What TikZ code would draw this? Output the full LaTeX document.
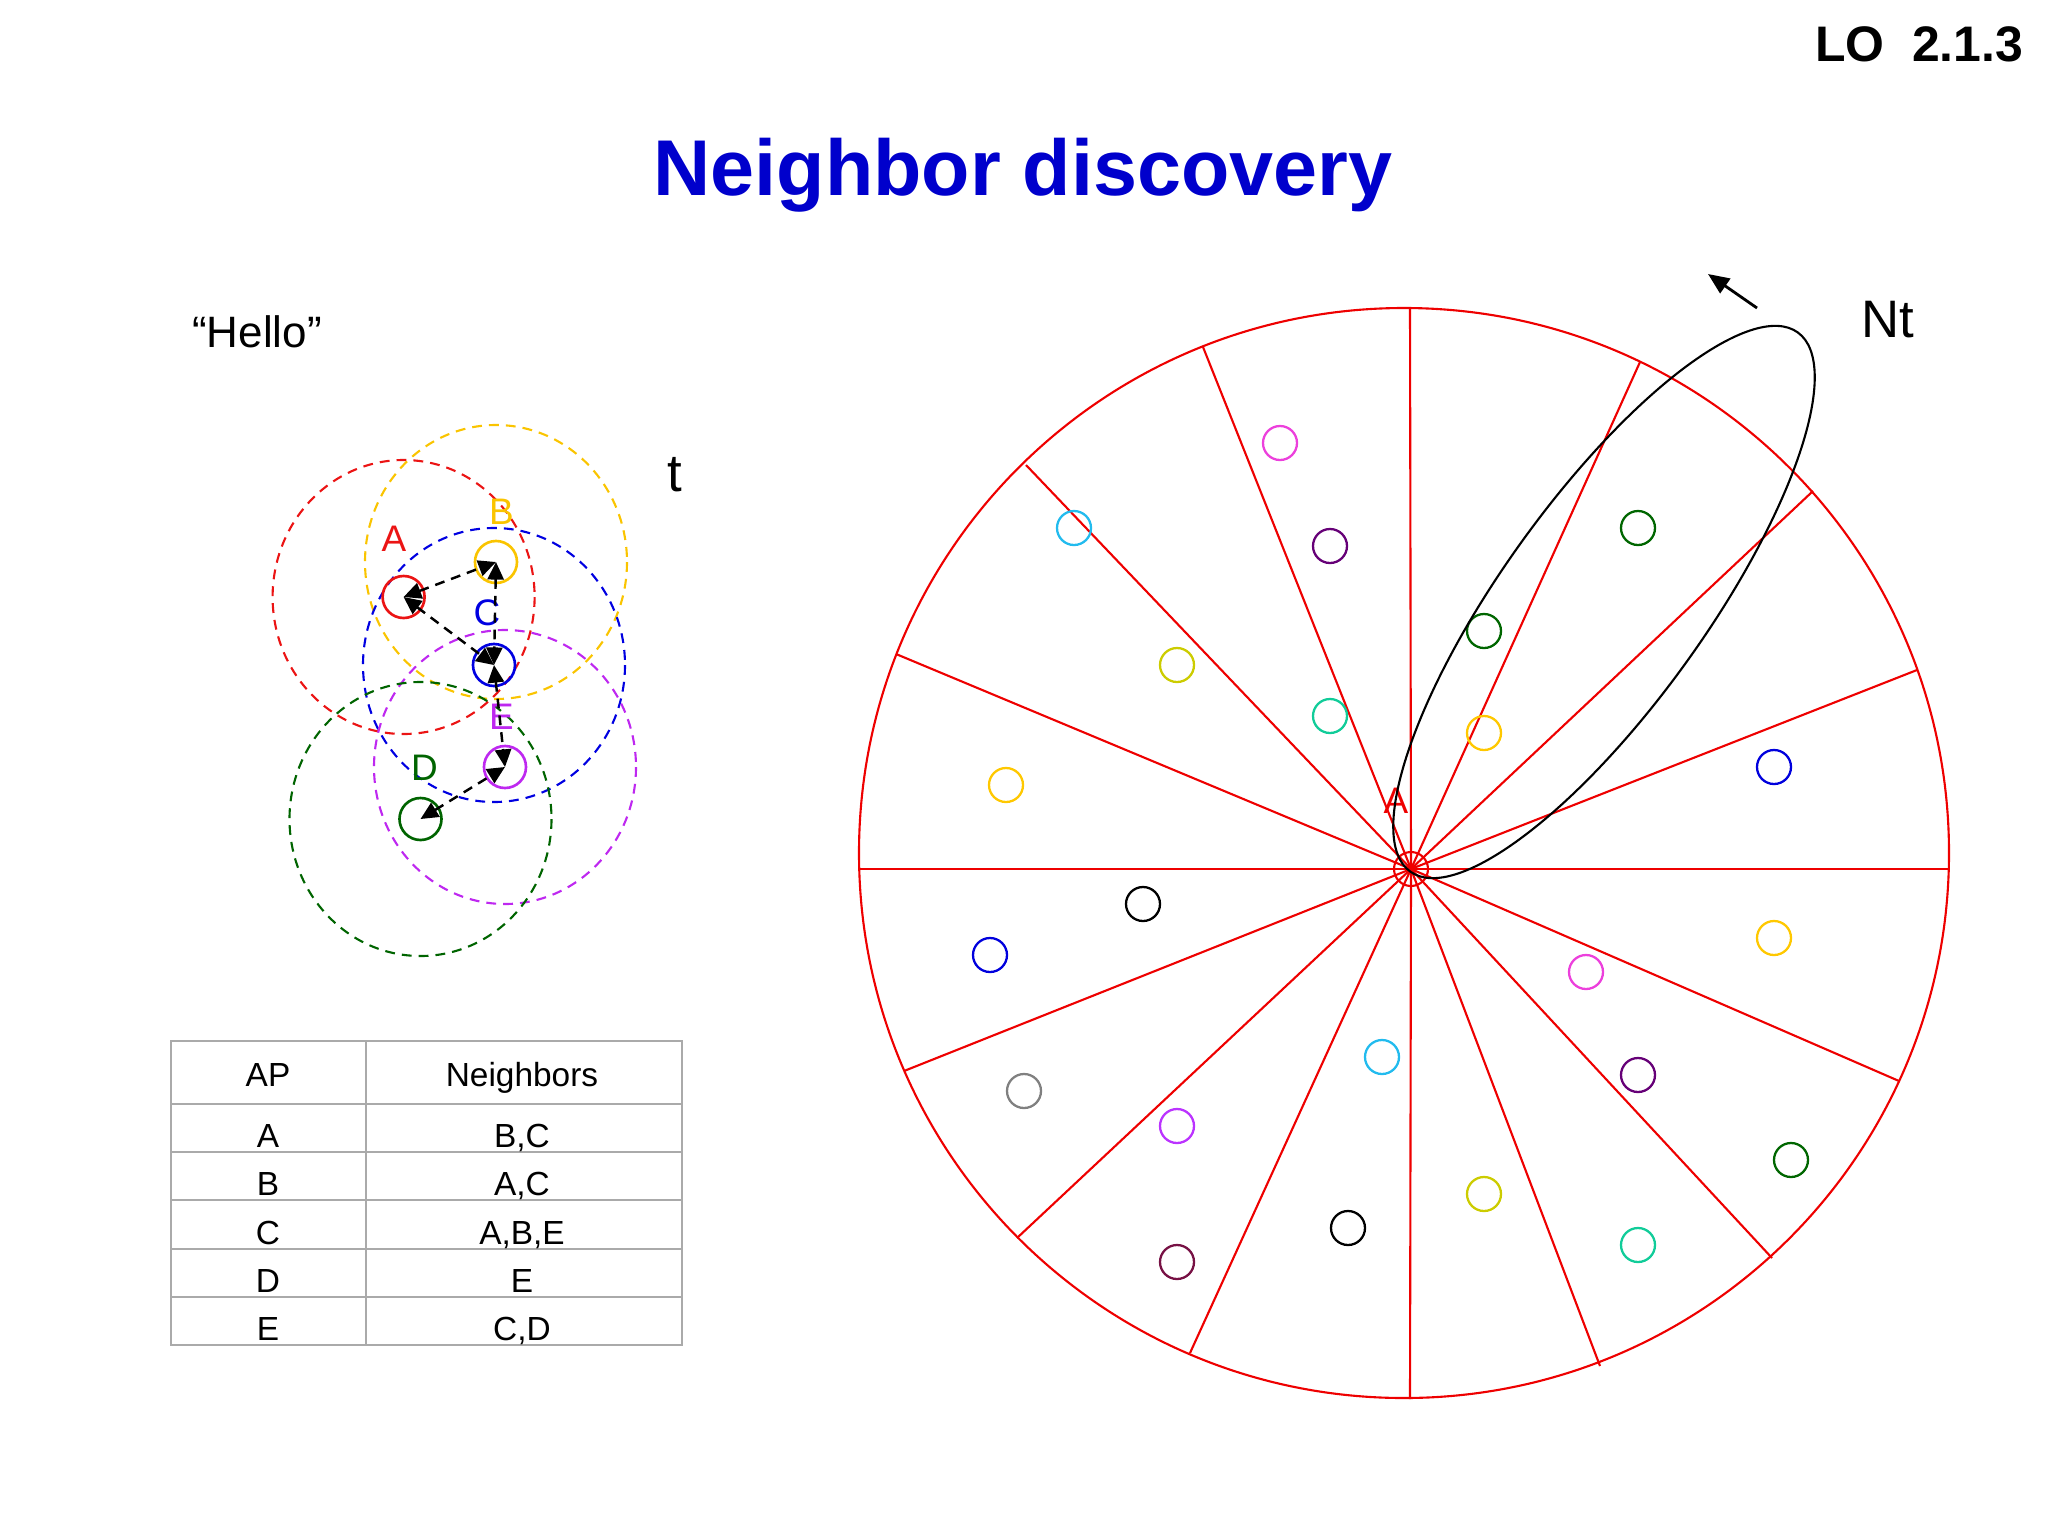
\documentclass[tikz,border=0pt]{standalone}
\usepackage{fontspec}
\setmainfont{Liberation Sans}
\usetikzlibrary{arrows.meta}

\definecolor{titleblue}{RGB}{0,0,204}
\definecolor{wheelred}{RGB}{238,0,0}
\definecolor{apred}{RGB}{235,20,20}
\definecolor{apgold}{RGB}{250,196,0}
\definecolor{apblue}{RGB}{0,0,225}
\definecolor{apviolet}{RGB}{190,40,240}
\definecolor{apgreen}{RGB}{0,100,0}
\definecolor{dotpink}{RGB}{236,64,220}
\definecolor{dotplum}{RGB}{102,0,119}
\definecolor{dotcyan}{RGB}{34,187,238}
\definecolor{dotolive}{RGB}{204,204,0}
\definecolor{dotteal}{RGB}{17,204,153}
\definecolor{dotgreen}{RGB}{0,102,0}
\definecolor{dotgold}{RGB}{255,200,0}
\definecolor{dotblue}{RGB}{0,0,221}
\definecolor{dotgray}{RGB}{128,128,128}
\definecolor{dotviolet}{RGB}{187,51,255}
\definecolor{dotmaroon}{RGB}{119,17,68}
\definecolor{tablegray}{RGB}{170,170,170}

\tikzset{
  aprange/.style={dash pattern=on 2.8pt off 2pt, line width=0.6pt},
  ap/.style={circle, draw, line width=0.75pt, minimum size=0.42cm, inner sep=0pt},
  aplabel/.style={anchor=base, inner sep=0pt, font=\fontsize{10.5}{12}\selectfont},
  hello/.style={<->, >={Triangle[length=5pt,width=4.6pt]}, dash pattern=on 2.8pt off 2pt, line width=0.7pt},
  wheel/.style={wheelred, line width=0.6pt},
  wdot/.style={line width=0.65pt},
  tablegrid/.style={tablegray, line width=0.6pt},
  cell/.style={anchor=base, inner sep=0pt, font=\fontsize{9.5}{11}\selectfont}
}

\begin{document}
\begin{tikzpicture}[x=0.01cm, y=-0.01cm]
  \useasboundingbox (0,0) rectangle (2048,1536);

  % headings
  \node[anchor=base east, inner sep=0pt, font=\fontsize{14.2}{17}\selectfont\bfseries] (lo) at (2024,61) {LO~~2.1.3};
  \node[anchor=base, inner sep=0pt, text=titleblue, font=\fontsize{22.5}{27}\selectfont\bfseries] (title) at (1023,195) {Neighbor discovery};
  \node[anchor=base, inner sep=0pt, font=\fontsize{12.5}{15}\selectfont] (hello) at (257,347) {“Hello”};
  \node[anchor=base, inner sep=0pt, font=\fontsize{15}{18}\selectfont] (t) at (675,491) {t};

  % ranges of the access points
  \draw[aprange, apred] (403.6,597) ellipse [x radius=131, y radius=137];
  \draw[aprange, apgold] (496,562) ellipse [x radius=131, y radius=137];
  \draw[aprange, apblue] (494,665) ellipse [x radius=131, y radius=137];
  \draw[aprange, apviolet] (505,767) ellipse [x radius=131, y radius=137];
  \draw[aprange, apgreen] (420.5,819) ellipse [x radius=131, y radius=137];

  \node[ap, apred] (A) at (403.6,597) {};
  \node[ap, apgold] (B) at (496,562) {};
  \node[ap, apblue] (C) at (494,665) {};
  \node[ap, apviolet] (E) at (505,767) {};
  \node[ap, apgreen] (D) at (420.5,819) {};

  \node[aplabel, apred] (la) at (394,551) {A};
  \node[aplabel, apgold] (lb) at (501.5,524) {B};
  \node[aplabel, apblue] (lc) at (487,625.5) {C};
  \node[aplabel, apviolet] (le) at (501.5,729) {E};
  \node[aplabel, apgreen] (ld) at (424.5,780) {D};

  \draw[hello] (A.center) -- (B.center);
  \draw[hello] (A.center) -- (C.center);
  \draw[hello] (B.center) -- (C.center);
  \draw[hello] (C.center) -- (E.center);
  \draw[hello] (D.center) -- (E.center);

  % neighbor table
  \draw[tablegrid] (171,1041) rectangle (682,1345);
  \draw[tablegrid] (366,1041) -- (366,1345);
  \foreach \y in {1104,1152,1200,1249,1297}
    \draw[tablegrid] (171,\y) -- (682,\y);
  \node[cell] (hap) at (268,1086) {AP};
  \node[cell] (hnb) at (522,1086) {Neighbors};
  \foreach \n/\nb/\y in {A/{B,C}/1147, B/{A,C}/1195, C/{A,B,E}/1244, D/E/1292, E/{C,D}/1340} {
    \node[cell] (ap\n) at (268,\y) {\n};
    \node[cell] (nb\n) at (522,\y) {\nb};
  }

  % sector wheel
  \coordinate (hub) at (1411,869);
  \draw[wheel] (1404,853) circle [radius=545];
  \foreach \x/\y in {1410/307, 1640/362, 1813/491, 1917/670, 1950/869, 1899/1081,
                     1772/1258, 1600/1366, 1410/1399, 1190/1353, 1017/1238, 904/1071,
                     858/869, 896/654, 1026/465, 1203/347}
    \draw[wheel] (hub) -- (\x,\y);
  \draw[wheel] (hub) circle [radius=17];
  \node[aplabel, wheelred] (wa) at (1396,813) {A};

  \foreach \c/\x/\y in {dotpink/1280/443, dotplum/1330/546, dotcyan/1074/528, dotolive/1177/665,
                        dotteal/1330/716, dotgreen/1638/528, dotgreen/1484/631, dotgold/1484/733,
                        dotgold/1006/785, dotblue/1774/767, black/1143/904, dotblue/990/955,
                        dotgold/1774/938, dotpink/1586/972, dotcyan/1382/1057, dotgray/1024/1091,
                        dotplum/1638/1075, dotviolet/1177/1126, dotgreen/1791/1160, dotolive/1484/1194,
                        black/1348/1228, dotteal/1638/1245, dotmaroon/1177/1262}
    \draw[wdot, \c] (\x,\y) circle [radius=17];

  % antenna lobe
  \draw[line width=0.6pt, rotate around={54.3:(1604,602)}] (1604,602) ellipse [x radius=332, y radius=102];
  \coordinate (turn tail) at (1757,308);
  \coordinate (turn tip) at (1708,274);
  \draw[-{Triangle[length=6pt,width=5pt]}, line width=0.8pt] (turn tail) -- (turn tip);
  \node[anchor=base, inner sep=0pt, font=\fontsize{15}{18}\selectfont] (nt) at (1888,337) {Nt};
\end{tikzpicture}
\end{document}
